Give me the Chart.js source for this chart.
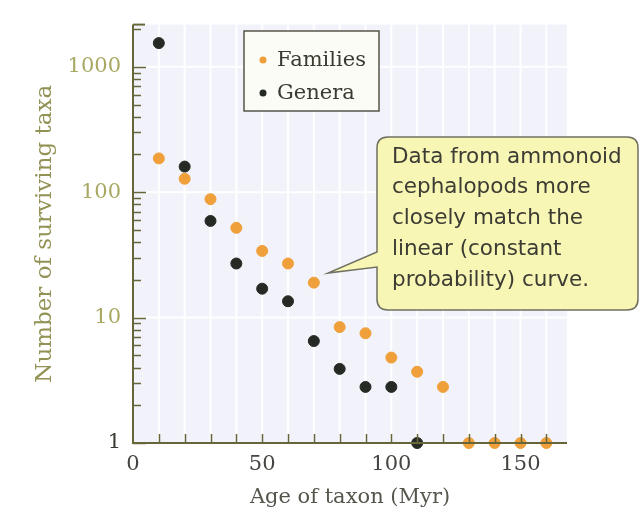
<!DOCTYPE html>
<html>
<head>
<meta charset="utf-8">
<script src="https://cdn.jsdelivr.net/npm/chart.js@4/dist/chart.umd.min.js"></script>
<style>
  html, body { margin: 0; padding: 0; background: #ffffff; }
  #wrap { width: 641px; height: 518px; }
</style>
</head>
<body>
<div id="wrap"><canvas id="grafico" width="641" height="518"></canvas></div>
<script>
// dados (idade em Myr, numero de taxa sobreviventes)
const idadesFamilias = [10, 20, 30, 40, 50, 60, 70, 80, 90, 100, 110, 120, 130, 140, 150, 160];
const familias = [186, 128, 88, 52, 34, 27, 19, 8.4, 7.5, 4.8, 3.7, 2.8, 1, 1, 1, 1];
const idadesGeneros = [10, 20, 30, 40, 50, 60, 70, 80, 90, 100, 110];
const generos = [1545, 160, 59, 27, 17, 13.5, 6.5, 3.9, 2.8, 2.8, 1];

const ticksX = [0, 50, 100, 150];
const ticksY = [1, 10, 100, 1000];

const textoBalao = [
  'Data from ammonoid',
  'cephalopods more',
  'closely match the',
  'linear (constant',
  'probability) curve.'
];

const corEixo = '#66663a';
const fonteSerif = 'DejaVu Serif';

// fundo azulado com listras brancas
const fundoPlugin = {
  id: 'fundo',
  beforeDatasetsDraw(chart) {
    const { ctx, chartArea: a, scales: { x, y } } = chart;
    ctx.save();
    ctx.fillStyle = '#f1f2fa';
    ctx.fillRect(a.left, a.top, a.right - a.left, a.bottom - a.top);
    ctx.strokeStyle = '#ffffff';
    ctx.lineWidth = 2;
    for (let v = 10; v <= 160; v += 10) {
      const px = x.getPixelForValue(v);
      ctx.beginPath(); ctx.moveTo(px, a.top); ctx.lineTo(px, a.bottom); ctx.stroke();
    }
    ticksY.forEach(v => {
      const py = y.getPixelForValue(v);
      ctx.beginPath(); ctx.moveTo(a.left, py); ctx.lineTo(a.right, py); ctx.stroke();
    });
    ctx.restore();
  }
};

// eixos, marcas internas, legenda e balao
const extrasPlugin = {
  id: 'extras',
  afterDraw(chart) {
    const { ctx, chartArea: a, scales: { x, y } } = chart;
    ctx.save();
    ctx.strokeStyle = corEixo;
    ctx.lineWidth = 2;
    ctx.beginPath();
    ctx.moveTo(a.left, a.top); ctx.lineTo(a.left, a.bottom); ctx.lineTo(a.right, a.bottom);
    ctx.stroke();
    ctx.beginPath(); ctx.moveTo(a.left, a.top); ctx.lineTo(a.left + 12, a.top); ctx.stroke();

    ctx.lineWidth = 1.5;
    for (let v = 10; v <= 160; v += 10) {
      const px = Math.round(x.getPixelForValue(v)) + 0.5;
      ctx.beginPath(); ctx.moveTo(px, a.bottom); ctx.lineTo(px, a.bottom - 9); ctx.stroke();
    }
    for (let d = 1; d <= 1000; d *= 10) {
      for (let k = 1; k <= 9; k++) {
        const v = d * k;
        if (v > y.max) break;
        const py = Math.round(y.getPixelForValue(v)) + 0.5;
        const len = k === 1 ? 13 : 8;
        ctx.beginPath(); ctx.moveTo(a.left, py); ctx.lineTo(a.left + len, py); ctx.stroke();
      }
    }

    // legenda
    const lx = 244, ly = 31, lw = 135, lh = 80;
    ctx.fillStyle = '#fcfcf7';
    ctx.fillRect(lx, ly, lw, lh);
    ctx.strokeStyle = '#555548';
    ctx.lineWidth = 1.5;
    ctx.strokeRect(lx, ly, lw, lh);
    ctx.font = '21px "' + fonteSerif + '"';
    ctx.textBaseline = 'middle';
    chart.data.datasets.forEach((ds, i) => {
      const cy = 60 + i * 33;
      ctx.fillStyle = ds.backgroundColor;
      ctx.beginPath(); ctx.arc(263, cy, 3.5, 0, Math.PI * 2); ctx.fill();
      ctx.fillStyle = '#3a3a30';
      ctx.fillText(ds.label, 277, cy + 1);
    });

    // balao com texto
    const bx = 377, by = 137, bx2 = 638, by2 = 310, r = 11;
    ctx.beginPath();
    ctx.moveTo(bx + r, by);
    ctx.lineTo(bx2 - r, by);
    ctx.quadraticCurveTo(bx2, by, bx2, by + r);
    ctx.lineTo(bx2, by2 - r);
    ctx.quadraticCurveTo(bx2, by2, bx2 - r, by2);
    ctx.lineTo(bx + r, by2);
    ctx.quadraticCurveTo(bx, by2, bx, by2 - r);
    ctx.lineTo(bx, 267);
    ctx.lineTo(328, 273);
    ctx.lineTo(bx, 252);
    ctx.lineTo(bx, by + r);
    ctx.quadraticCurveTo(bx, by, bx + r, by);
    ctx.closePath();
    ctx.fillStyle = '#f7f6b4';
    ctx.fill();
    ctx.strokeStyle = '#707062';
    ctx.lineWidth = 1.5;
    ctx.stroke();
    ctx.fillStyle = '#3c3c34';
    ctx.font = '21.5px "DejaVu Sans"';
    ctx.textBaseline = 'middle';
    textoBalao.forEach((linha, i) => ctx.fillText(linha, 392, 157 + i * 30.8));
    ctx.restore();
  }
};

new Chart(document.getElementById('grafico'), {
  type: 'scatter',
  data: {
    datasets: [
      {
        label: 'Families',
        data: idadesFamilias.map((v, i) => ({ x: v, y: familias[i] })),
        backgroundColor: '#f0a03a',
        borderColor: '#f0a03a',
        pointRadius: 5.5,
        clip: false
      },
      {
        label: 'Genera',
        data: idadesGeneros.map((v, i) => ({ x: v, y: generos[i] })),
        backgroundColor: '#262a24',
        borderColor: '#262a24',
        pointRadius: 5.5,
        clip: false
      }
    ]
  },
  options: {
    responsive: false,
    animation: false,
    devicePixelRatio: 1,
    layout: { padding: { top: 11, right: 74, bottom: 0, left: 0 } },
    plugins: { legend: { display: false }, tooltip: { enabled: false } },
    scales: {
      x: {
        type: 'linear',
        min: 0,
        max: 168,
        afterBuildTicks: s => { s.ticks = ticksX.map(v => ({ value: v })); },
        afterFit: s => { s.height = 75; },
        grid: { display: false, drawTicks: false },
        border: { display: false },
        ticks: { padding: 9, color: '#444440', font: { family: fonteSerif, size: 21 } },
        title: {
          display: true,
          text: 'Age of taxon (Myr)',
          color: '#55554c',
          font: { family: fonteSerif, size: 21 },
          padding: { top: 0, bottom: 8 }
        }
      },
      y: {
        type: 'logarithmic',
        min: 1,
        max: 2170,
        afterBuildTicks: s => { s.ticks = ticksY.map(v => ({ value: v })); },
        afterFit: s => { s.width = 133; },
        grid: { display: false, drawTicks: false },
        border: { display: false },
        ticks: {
          padding: 12,
          color: c => c.tick && c.tick.value === 1 ? '#3a3a34' : '#a8a862',
          font: { family: fonteSerif, size: 21 },
          callback: v => String(v)
        },
        title: {
          display: true,
          text: 'Number of surviving taxa',
          color: '#929255',
          font: { family: fonteSerif, size: 23 },
          padding: { top: 31, bottom: 0 }
        }
      }
    }
  },
  plugins: [fundoPlugin, extrasPlugin]
});
</script>
</body>
</html>
